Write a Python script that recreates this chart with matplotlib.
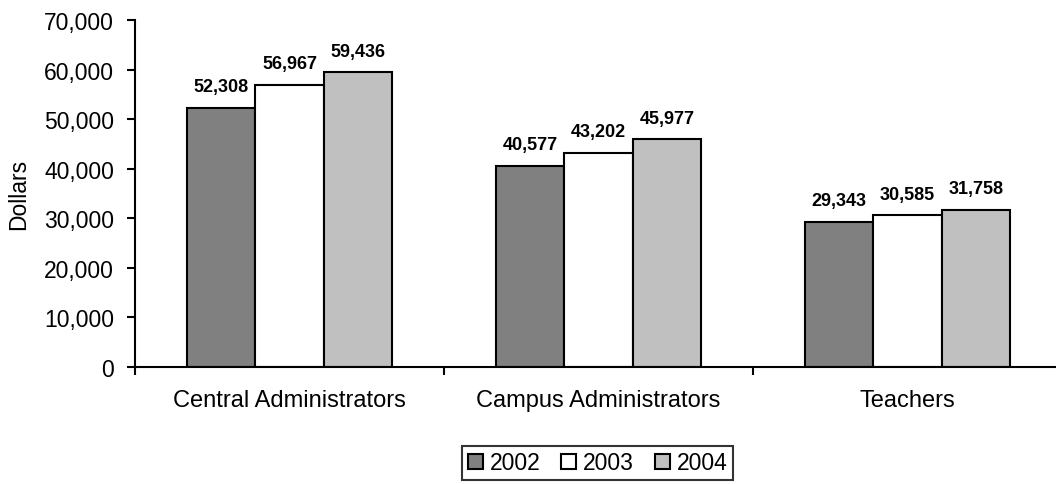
import numpy as np
import matplotlib.pyplot as plt
from matplotlib.ticker import FuncFormatter

plt.rcParams['font.family'] = ['Liberation Sans', 'DejaVu Sans']

categories = ['Central Administrators', 'Campus Administrators', 'Teachers']
years = ['2002', '2003', '2004']
sal_2002 = [52308, 40577, 29343]
sal_2003 = [56967, 43202, 30585]
sal_2004 = [59436, 45977, 31758]
colors = ['#808080', '#ffffff', '#c0c0c0']

fig = plt.figure(figsize=(10.56, 4.85), dpi=100)
ax = fig.add_axes([0.1278, 0.2412, 0.8778, 0.7155])

x = np.arange(len(categories))
w = 0.222
series = [sal_2002, sal_2003, sal_2004]
handles = []
for i, (vals, yr, c) in enumerate(zip(series, years, colors)):
    bars = ax.bar(x + (i - 1) * w, vals, w, color=c, edgecolor='black',
                  linewidth=1.5, label=yr)
    handles.append(bars)
    for b, v in zip(bars, vals):
        ax.annotate(f'{v:,}', (b.get_x() + b.get_width() / 2, v),
                    xytext=(0, 9), textcoords='offset points',
                    ha='center', va='bottom', fontsize=13, fontweight='bold')

ax.set_xlim(-0.5, 2.5)
ax.set_ylim(0, 70000)
ax.set_yticks(range(0, 70001, 10000))
ax.yaxis.set_major_formatter(FuncFormatter(lambda v, p: f'{int(v):,}'))
ax.set_ylabel('Dollars', fontsize=16.5, labelpad=10)

ax.set_xticks(x)
ax.set_xticklabels(categories, fontsize=17)
ax.tick_params(axis='x', which='major', length=0, pad=16)
ax.set_xticks([-0.5, 0.5, 1.5, 2.5], minor=True)
ax.tick_params(axis='x', which='minor', length=6, width=1.5)
ax.tick_params(axis='y', labelsize=16.5, length=6, width=1.5, pad=9)

for s in ['top', 'right']:
    ax.spines[s].set_visible(False)
for s in ['left', 'bottom']:
    ax.spines[s].set_linewidth(1.5)

leg = fig.legend(handles=handles, loc='lower center', bbox_to_anchor=(0.566, 0.008),
                 ncol=3, fontsize=16.5, frameon=True, fancybox=False,
                 handlelength=0.65, handleheight=0.65, handletextpad=0.3,
                 columnspacing=0.9, borderpad=0.25, borderaxespad=0,
                 edgecolor='black')
leg.get_frame().set_linewidth(1.5)

fig.savefig('out.png', dpi=100)
